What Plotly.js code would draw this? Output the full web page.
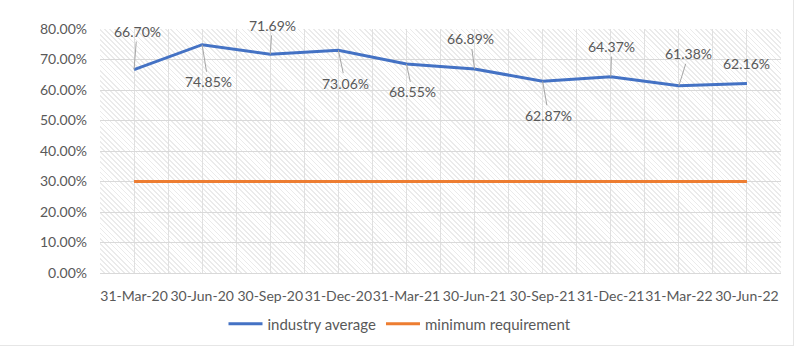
<!DOCTYPE html>
<html>
<head>
<meta charset="utf-8">
<script src="https://cdn.plot.ly/plotly-3.0.1.min.js"></script>
<style>
  html, body { margin: 0; padding: 0; background: #fff; }
  #wrap { position: relative; width: 800px; height: 350px; }
  #hatch { position: absolute; left: 100px; top: 29px; width: 681px; height: 244px;
    background: repeating-linear-gradient(45deg, #ffffff 0px, #ffffff 2.4px, #ebebeb 2.4px, #ebebeb 3.6px); }
  #frame { position: absolute; left: 0; top: 0; width: 793px; height: 345px;
    border-right: 1px solid #e6e6e6; border-bottom: 1px solid #e6e6e6; pointer-events: none; }
  #chart { position: absolute; left: 0; top: 0; width: 800px; height: 350px; }
</style>
</head>
<body>
<div id="wrap">
  <div id="hatch"></div>
  <div id="chart"></div>
  <div id="frame"></div>
</div>
<script>
const categories = ["31-Mar-20", "30-Jun-20", "30-Sep-20", "31-Dec-20", "31-Mar-21",
                    "30-Jun-21", "30-Sep-21", "31-Dec-21", "31-Mar-22", "30-Jun-22"];
const industryAverage = [66.70, 74.85, 71.69, 73.06, 68.55, 66.89, 62.87, 64.37, 61.38, 62.16];
const minimumRequirement = [30, 30, 30, 30, 30, 30, 30, 30, 30, 30];
const seriesNames = ["industry average", "minimum requirement"];

const xIdx = categories.map((_, i) => i);

// label offsets (pixels) for data labels
const labelOffsets = [[3, -38], [6, 37], [2, -29], [7, 33], [6, 28],
                      [-4, -30], [6, 34], [1, -30], [10, -32], [0, -20]];
const showLeader = [true, true, true, true, true, true, true, true, true, false];

const font = "Lato, 'Open Sans', sans-serif";
const textColor = "#595959";

const annotations = industryAverage.map((v, i) => ({
  x: xIdx[i], y: v, xref: "x", yref: "y",
  text: v.toFixed(2) + "%",
  showarrow: true,
  ax: labelOffsets[i][0], ay: labelOffsets[i][1],
  arrowhead: 0, arrowwidth: 1,
  arrowcolor: showLeader[i] ? "#a6a6a6" : "rgba(0,0,0,0)",
  standoff: 0,
  font: { family: font, size: 14, color: textColor }
}));

const traces = [
  { x: xIdx, y: industryAverage, name: seriesNames[0], type: "scatter", mode: "lines",
    line: { color: "#4472C4", width: 3 } },
  { x: xIdx, y: minimumRequirement, name: seriesNames[1], type: "scatter", mode: "lines",
    line: { color: "#ED7D31", width: 3 } }
];

const layout = {
  width: 800, height: 350,
  margin: { l: 100, r: 19, t: 29, b: 77 },
  paper_bgcolor: "rgba(0,0,0,0)",
  plot_bgcolor: "rgba(0,0,0,0)",
  font: { family: font, color: textColor, size: 14 },
  showlegend: true,
  legend: { orientation: "h", xref: "container", yref: "container",
            x: 0.5, xanchor: "center", y: 0.074, yanchor: "middle",
            font: { family: font, size: 15, color: textColor },
            itemwidth: 34, tracegroupgap: 0 },
  xaxis: {
    type: "linear", range: [-0.5, 9.5],
    tickmode: "array", tickvals: xIdx, ticktext: categories,
    tickangle: 0,
    showgrid: true, gridcolor: "#e0e0e0", gridwidth: 1,
    minor: { tickmode: "linear", tick0: -0.5, dtick: 1, showgrid: true, gridcolor: "#e0e0e0", gridwidth: 1 },
    zeroline: false, showline: true, linecolor: "#d9d9d9", linewidth: 1,
    ticks: "", ticklabelstandoff: 10,
    tickfont: { family: font, size: 14, color: textColor },
    fixedrange: true
  },
  yaxis: {
    range: [0, 80], dtick: 10, tick0: 0,
    tickformat: ".2f", ticksuffix: "%",
    showgrid: true, gridcolor: "#d9d9d9", gridwidth: 1,
    zeroline: false, showline: false, ticks: "",
    ticklabelstandoff: 12,
    tickfont: { family: font, size: 14, color: textColor },
    fixedrange: true
  },
  annotations: annotations
};

Plotly.newPlot("chart", traces, layout, { displayModeBar: false, staticPlot: true });
</script>
</body>
</html>
